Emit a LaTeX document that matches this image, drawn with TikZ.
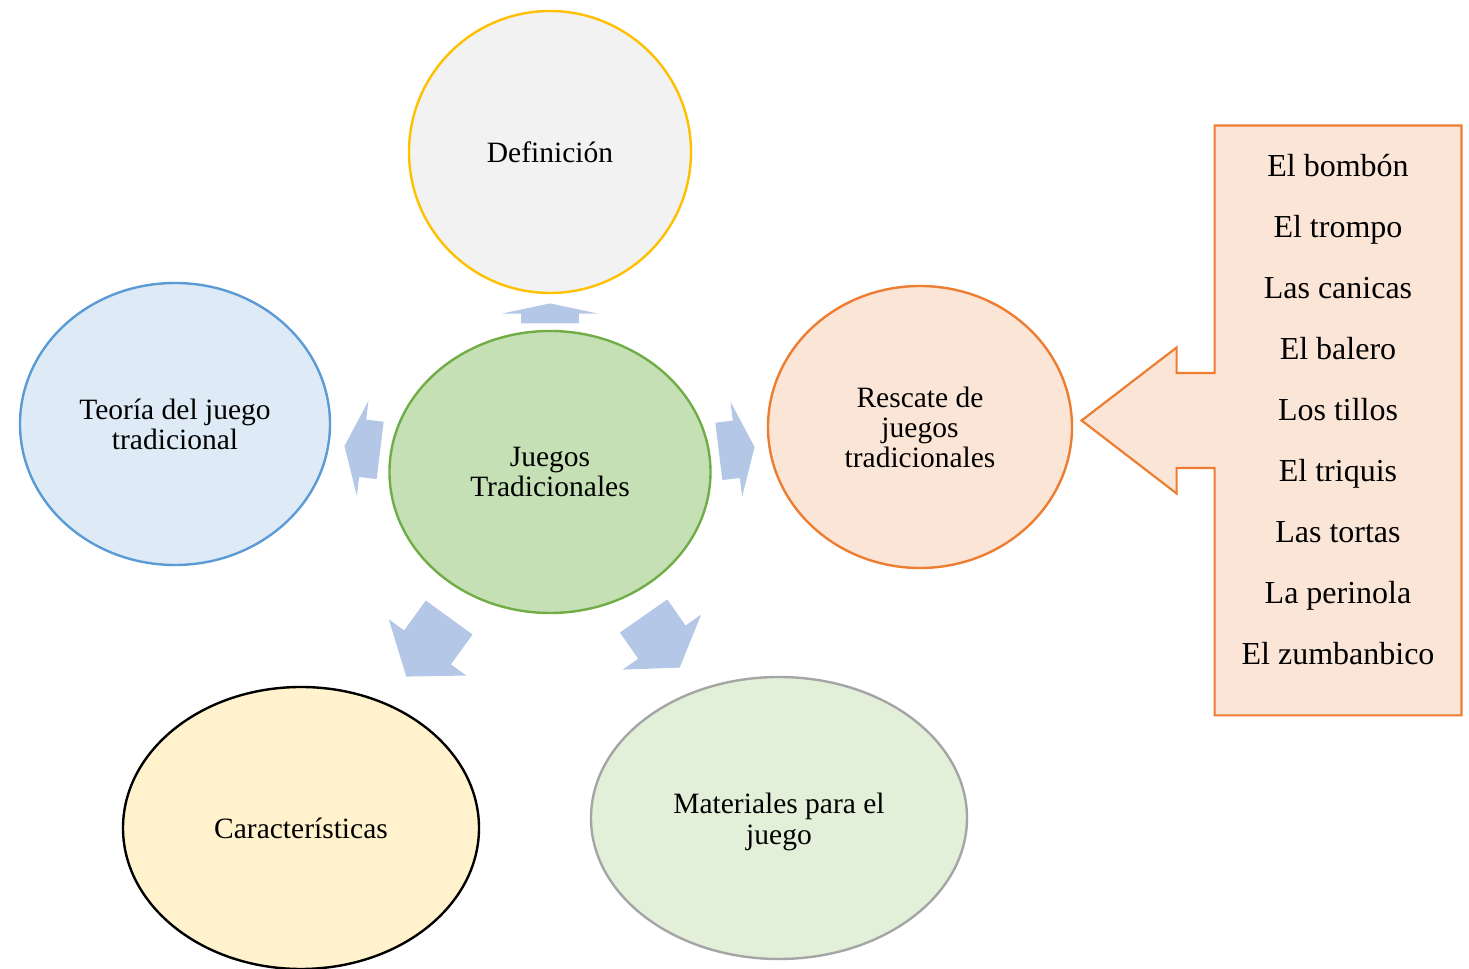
\documentclass[tikz,border=0pt]{standalone}
\usepackage{fontspec}
\setmainfont{Liberation Serif}
\usetikzlibrary{shapes.geometric, shapes.arrows, calc}
\definecolor{arrowblue}{HTML}{B4C7E7}
\definecolor{goldline}{HTML}{FFC000}
\definecolor{greyfill}{HTML}{F2F2F2}
\definecolor{blueline}{HTML}{5B9BD5}
\definecolor{bluefill}{HTML}{DEEBF7}
\definecolor{greenline}{HTML}{70AD47}
\definecolor{greenfill}{HTML}{C5E0B4}
\definecolor{orangeline}{HTML}{ED7D31}
\definecolor{orangefill}{HTML}{FBE5D6}
\definecolor{yellowfill}{HTML}{FFF2CC}
\definecolor{palegreen}{HTML}{E2F0D9}
\definecolor{greyline}{HTML}{A5A5A5}
\tikzset{topic/.style={ellipse,draw,line width=1.2pt,inner sep=0pt,align=center,
                       font=\fontsize{14.75}{15}\selectfont,minimum height=141pt},
         blockarrow/.style={single arrow,fill=arrowblue,inner xsep=0pt,inner ysep=14.25pt,
                       single arrow head extend=9.5pt,anchor=tip},
         listbox/.style={rectangle,inner sep=0pt,minimum width=123pt,minimum height=294.5pt},
         callout/.style={draw=orangeline,fill=orangefill,line width=1.1pt},
        }

\begin{document}
\begin{tikzpicture}[x=0.5pt,y=0.5pt]
        \useasboundingbox(0,0)rectangle(1469,969);
        \node[topic,draw=goldline,fill=greyfill,minimum width=141pt](def)at(550,817){Definición};
        \node[topic,draw=blueline,fill=bluefill,minimum width=155pt](teo)at(175,545){Teoría del juego\\tradicional};
        \node[topic,draw=greenline,fill=greenfill,minimum width=160.5pt](jue)at(550,497){Juegos\\Tradicionales};
        \node[topic,draw=orangeline,fill=orangefill,minimum width=152pt](res)at(920,542){Rescate de\\juegos\\tradicionales};
        \node[topic,draw=black,fill=yellowfill,minimum width=178pt](car)at(301,141){Características};
        \node[topic,draw=greyline,fill=palegreen,minimum width=188pt,
              label={[align=center,font=\fontsize{14.75}{15.5}\selectfont,yshift=-2pt]center:Materiales para el\\juego}](mat)at(779,151){};
        % flechas de bloque
        \node[blockarrow,rotate=90,minimum height=10pt,single arrow tip angle=156](a1)at(550,666){};
        \node[blockarrow,rotate=173,minimum height=18pt,single arrow tip angle=138](a2)at(344,523){};
        \node[blockarrow,rotate=7,minimum height=18pt,single arrow tip angle=138](a3)at(755,522){};
        \node[blockarrow,rotate=234,minimum height=36.5pt,single arrow tip angle=106](a4)at(406,292){};
        \node[blockarrow,rotate=305,minimum height=31.5pt,single arrow tip angle=114](a5)at(680,301){};
        % lista
        \node[listbox](list)at(1338,548.5){};
        \draw[callout](list.north west)--(list.north east)--(list.south east)--(list.south west)
            --($(list.west)+(0,-47.5)$)--++(-38,0)--++(0,-25.5)--($(list.west)+(-133,0)$)
            --++(95,73)--++(0,-25.5)--++(38,0)--cycle;
        \node[align=center,font=\fontsize{16}{30.5}\selectfont](items)at($(list.center)+(0,11)$){El bombón\\El trompo\\Las canicas\\El balero\\Los tillos\\El triquis\\Las tortas\\La perinola\\El zumbanbico};
    \end{tikzpicture}
\end{document}
